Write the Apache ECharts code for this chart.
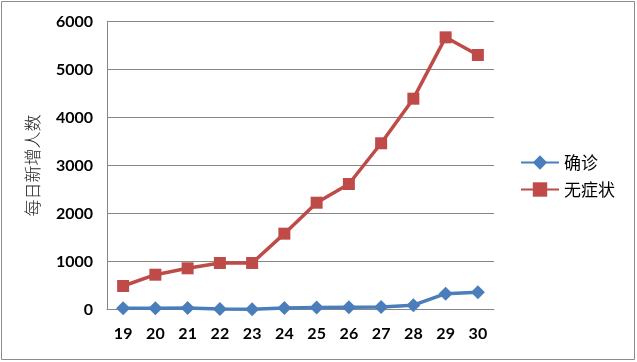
<!DOCTYPE html>
<html><head><meta charset="utf-8">
<script src="https://cdn.jsdelivr.net/npm/echarts@6/dist/echarts.min.js"></script>
<style>html,body{margin:0;padding:0;background:#fff}#c{width:637px;height:362px}</style>
</head><body><div id="c"></div>
<script>
const categories = ['19','20','21','22','23','24','25','26','27','28','29','30'];
const confirmed = [25, 25, 30, 10, 5, 30, 40, 45, 50, 90, 330, 358];
const asymptomatic = [490, 725, 858, 969, 969, 1580, 2225, 2615, 3463, 4392, 5670, 5302];
const yTicks = [0, 1000, 2000, 3000, 4000, 5000, 6000];
const seriesNames = ['确诊', '无症状'];
const yName = '每日新增人数';

const chart = echarts.init(document.getElementById('c'), null, {renderer: 'canvas'});
chart.setOption({
  animation: false,
  backgroundColor: '#fff',
  graphic: [{type: 'rect', shape: {x: 1.5, y: 1.5, width: 633, height: 358}, style: {fill: 'none', stroke: '#8c8c8c', lineWidth: 1}}],
  grid: {left: 107, right: 143, top: 21.5, bottom: 52.5},
  legend: {
    orient: 'vertical', left: 515, top: 149, itemGap: 10, itemWidth: 38, itemHeight: 18,
    textStyle: {fontFamily: 'Noto Sans CJK SC', fontSize: 17, color: '#000'},
    data: seriesNames
  },
  xAxis: {
    type: 'category', data: categories, boundaryGap: true,
    axisLine: {lineStyle: {color: '#868686'}},
    axisTick: {show: false},
    axisLabel: {fontFamily: 'Lato', fontWeight: 'bold', fontSize: 16, color: '#000', margin: 16}
  },
  yAxis: {
    type: 'value', min: yTicks[0], max: yTicks[yTicks.length - 1], interval: 1000,
    name: yName, nameLocation: 'middle', nameRotate: 90, nameGap: 66,
    nameTextStyle: {fontFamily: 'Noto Sans CJK SC', fontSize: 17, color: '#222', fontWeight: 300},
    axisLine: {show: true, lineStyle: {color: '#868686'}},
    axisTick: {show: false},
    splitLine: {lineStyle: {color: '#868686'}},
    axisLabel: {fontFamily: 'Lato', fontWeight: 'bold', fontSize: 16, color: '#000', margin: 14,
      formatter: v => String(v)}
  },
  series: [
    {name: seriesNames[0], type: 'line', data: confirmed, symbol: 'diamond', symbolSize: 14,
     lineStyle: {width: 3.5, color: '#4A7EBB'}, itemStyle: {color: '#4A7EBB'}},
    {name: seriesNames[1], type: 'line', data: asymptomatic, symbol: 'rect', symbolSize: 12,
     lineStyle: {width: 3.5, color: '#BE4B48'}, itemStyle: {color: '#BE4B48'}}
  ]
});
</script></body></html>
